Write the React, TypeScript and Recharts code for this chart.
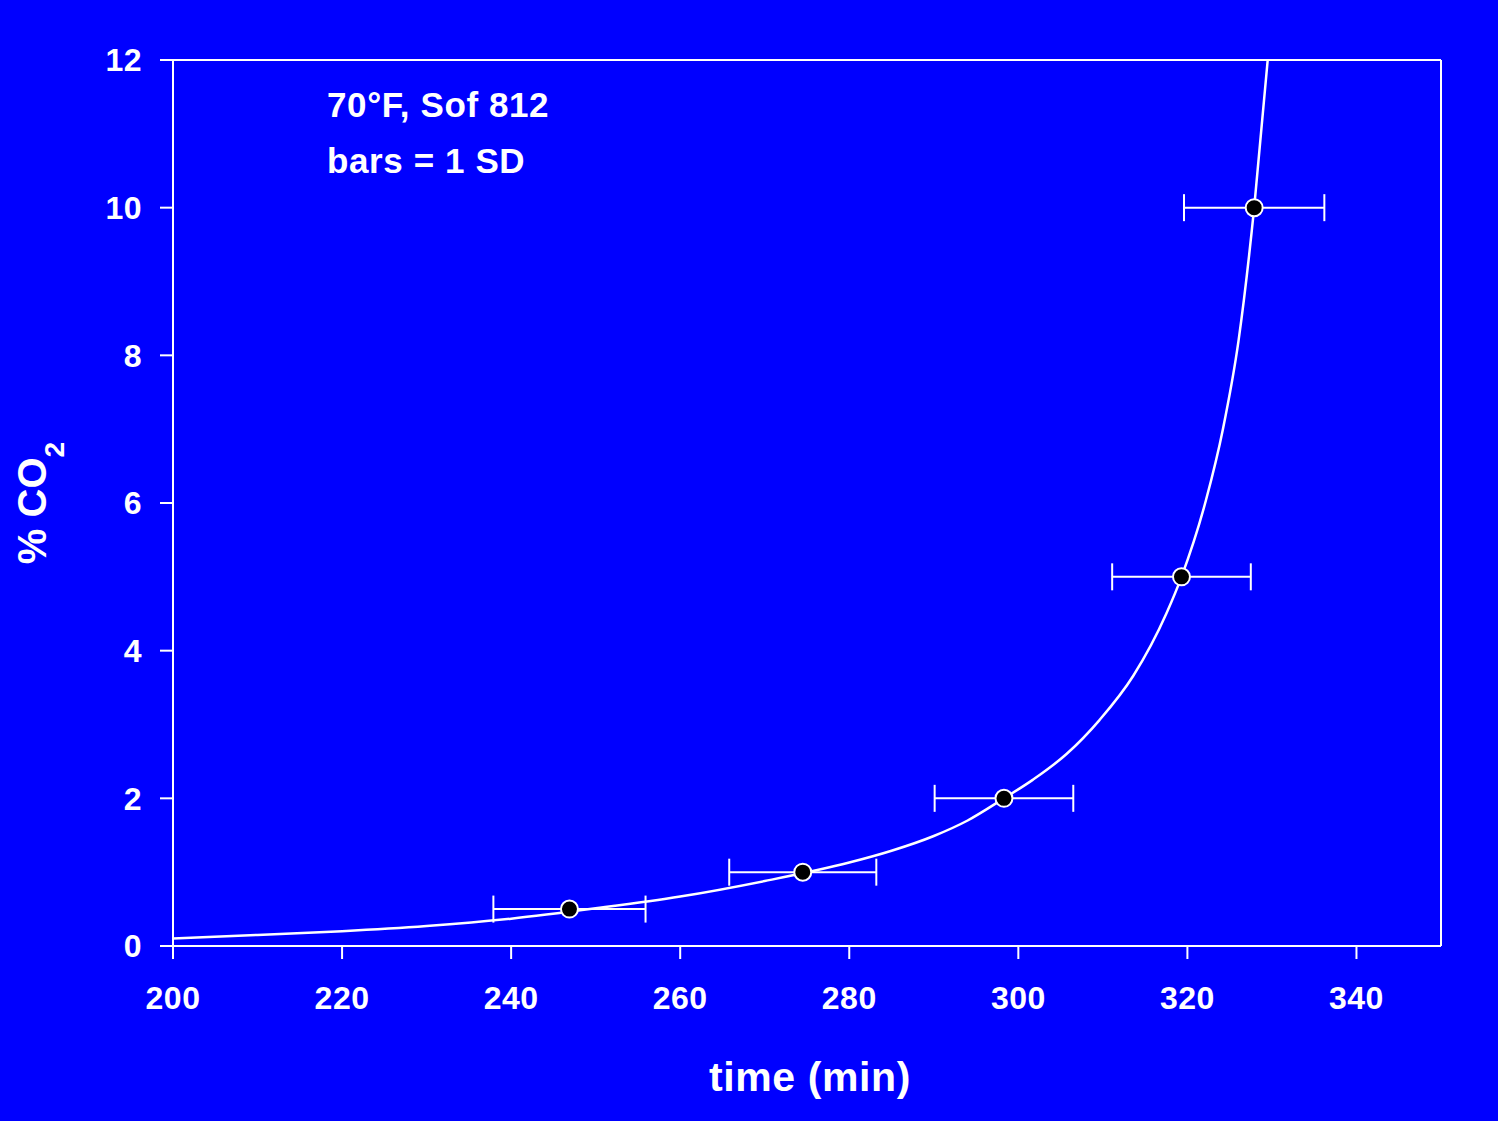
import {
  ComposedChart,
  ErrorBar,
  Line,
  ReferenceLine,
  Scatter,
  XAxis,
  YAxis,
} from "recharts";

// measured points (mean time to reach each CO2 level, with 1 SD)
const pointTime = [246.9, 274.5, 298.3, 319.3, 327.9];
const pointCO2 = [0.5, 1, 2, 5, 10];
const pointSD = [9, 8.7, 8.2, 8.2, 8.3];

// fitted curve
const curveTime = [
  200, 210, 220, 230, 240, 250, 260, 270, 280, 285, 290, 294, 298.3, 301.7,
  305.7, 309.6, 313.6, 317.5, 319.3, 322.2, 324.2, 326.05, 327.9, 329.5,
];
const curveCO2 = [
  0.1, 0.15, 0.2, 0.27, 0.37, 0.51, 0.67, 0.88, 1.13, 1.29, 1.49, 1.7, 2.0,
  2.25, 2.6, 3.06, 3.66, 4.5, 5.0, 6.04, 7.0, 8.2, 10.0, 12.0,
];

const xTicks = [200, 220, 240, 260, 280, 300, 320, 340];
const yTicks = [0, 2, 4, 6, 8, 10, 12];

const W = 1498;
const H = 1121;
const FONT = '"Liberation Sans", Arial, sans-serif';
const BG = "#0000ff";

const points = pointTime.map((x, i) => ({ x, y: pointCO2[i], sd: pointSD[i] }));
const curve = curveTime.map((x, i) => ({ x, y: curveCO2[i] }));

const tickStyle = {
  fill: "#fff",
  fontSize: 32,
  fontWeight: 700,
  fontFamily: FONT,
  letterSpacing: 0.5,
};
const lineStyle = { stroke: "#fff", strokeWidth: 2 };

const Dot = (props: any) => {
  const { cx, cy } = props;
  if (cx == null || cy == null) return null;
  return <circle cx={cx} cy={cy} r={8.5} fill="#000" stroke="#fff" strokeWidth={2} />;
};

export default function App() {
  return (
    <div style={{ position: "fixed", inset: 0, background: BG }}>
      <ComposedChart
        width={W}
        height={H}
        margin={{ top: 60, right: 57, left: 93, bottom: 115 }}
      >
        <XAxis
          type="number"
          dataKey="x"
          domain={[200, 350]}
          ticks={xTicks}
          interval={0}
          allowDataOverflow
          height={60}
          tickSize={13}
          tickMargin={27}
          axisLine={lineStyle}
          tickLine={lineStyle}
          tick={tickStyle}
        />
        <YAxis
          type="number"
          dataKey="y"
          domain={[0, 12]}
          ticks={yTicks}
          interval={0}
          allowDataOverflow
          width={80}
          tickSize={13}
          tickMargin={18}
          axisLine={lineStyle}
          tickLine={lineStyle}
          tick={tickStyle}
        />
        <ReferenceLine y={12} stroke="#fff" strokeWidth={2} />
        <ReferenceLine x={350} stroke="#fff" strokeWidth={2} />
        <Scatter data={points} dataKey="y" shape={Dot} isAnimationActive={false}>
          <ErrorBar
            dataKey="sd"
            direction="x"
            width={13.5}
            stroke="#fff"
            strokeWidth={2}
            isAnimationActive={false}
          />
        </Scatter>
        <Line
          data={curve}
          dataKey="y"
          type="monotone"
          stroke="#fff"
          strokeWidth={2.5}
          dot={false}
          activeDot={false}
          isAnimationActive={false}
        />
      </ComposedChart>
      <svg
        width={W}
        height={H}
        style={{ position: "absolute", left: 0, top: 0, pointerEvents: "none" }}
        fontFamily={FONT}
        fontWeight={700}
        fill="#fff"
      >
        <text x={327} y={116.5} fontSize={35} letterSpacing={0.6}>
          70°F, Sof 812
        </text>
        <text x={327} y={172.5} fontSize={35} letterSpacing={0.6}>
          bars = 1 SD
        </text>
        <text x={810} y={1091} fontSize={41} letterSpacing={0.6} textAnchor="middle">
          time (min)
        </text>
        <text transform="rotate(-90 46 503)" x={46} y={503} fontSize={40} textAnchor="middle">
          % CO
          <tspan fontSize={28} dy={18}>
            2
          </tspan>
        </text>
      </svg>
    </div>
  );
}
